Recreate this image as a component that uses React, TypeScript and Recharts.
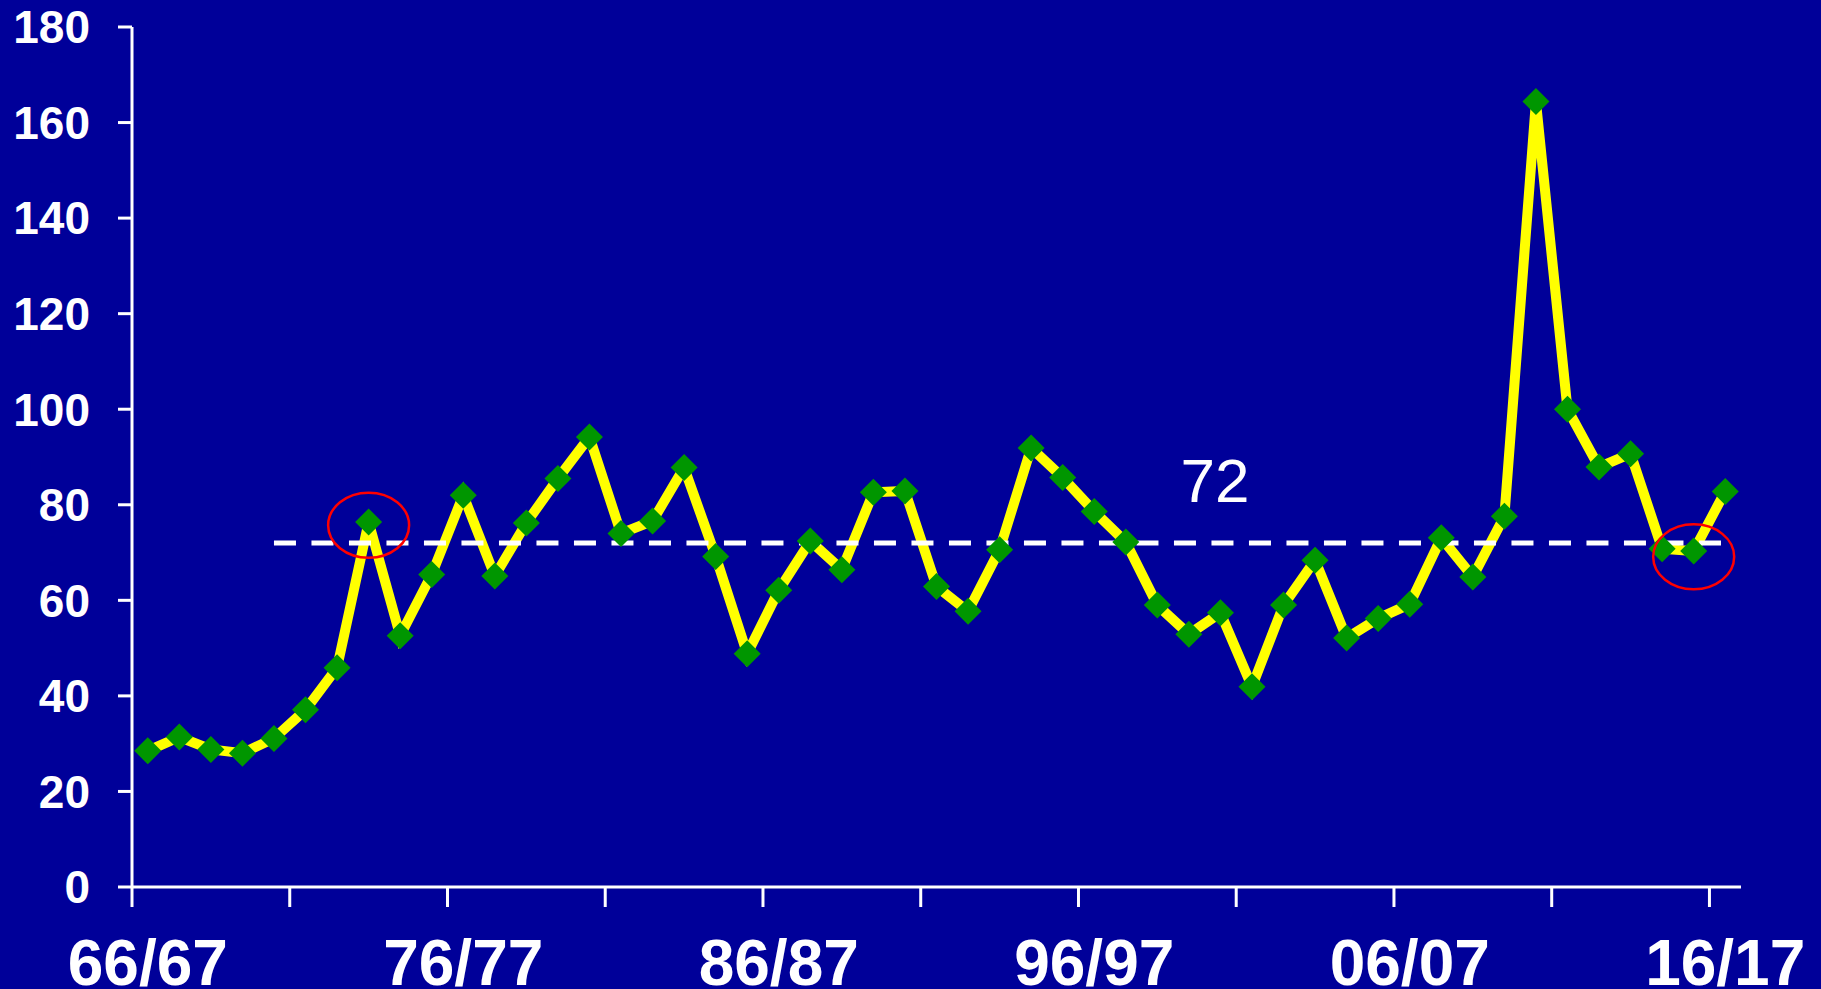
import { LineChart, Line, XAxis, YAxis, ReferenceLine, ReferenceDot } from 'recharts'

const seasons = [
  '66/67', '67/68', '68/69', '69/70', '70/71', '71/72', '72/73', '73/74', '74/75', '75/76',
  '76/77', '77/78', '78/79', '79/80', '80/81', '81/82', '82/83', '83/84', '84/85', '85/86',
  '86/87', '87/88', '88/89', '89/90', '90/91', '91/92', '92/93', '93/94', '94/95', '95/96',
  '96/97', '97/98', '98/99', '99/00', '00/01', '01/02', '02/03', '03/04', '04/05', '05/06',
  '06/07', '07/08', '08/09', '09/10', '10/11', '11/12', '12/13', '13/14', '14/15', '15/16',
  '16/17',
]

const values = [
  28.5, 31.4, 28.8, 28.0, 31.1, 37.1, 45.9, 76.4, 52.6, 65.4,
  82.0, 65.1, 76.2, 85.5, 94.2, 74.0, 76.6, 87.8, 69.2, 48.8,
  62.1, 72.4, 66.4, 82.6, 82.9, 62.9, 57.7, 70.6, 91.9, 85.7,
  78.6, 72.2, 59.0, 52.9, 57.4, 41.9, 59.0, 68.4, 52.1, 56.2,
  59.2, 73.1, 64.9, 77.6, 164.4, 100.0, 87.9, 90.7, 70.8, 70.3,
  82.8,
]

const yTicks = [0, 20, 40, 60, 80, 100, 120, 140, 160, 180]

// ticks sit on band edges every 5 seasons, labels every 10
const tickMarkSeasons = ['66/67', '71/72', '76/77', '81/82', '86/87', '91/92', '96/97', '01/02', '06/07', '11/12', '16/17']
const labelledSeasons = ['66/67', '76/77', '86/87', '96/97', '06/07', '16/17']

const average = 72
const averageFrom = '70/71'
const averageTo = '16/17'
const averageLabelAt = '00/01'

const circled = [
  { season: '73/74', value: 75.7 },
  { season: '15/16', value: 69.1 },
]

const BG = '#000099'
const FONT = '"Liberation Sans", Arial, sans-serif'

const data = seasons.map((season, i) => ({ season, value: values[i] }))

function SeasonTick(props: any) {
  const { x, y, payload } = props
  const half = payload?.offset ?? 0
  const season = payload?.value
  return (
    <g>
      {tickMarkSeasons.includes(season) && (
        <line x1={x - half} x2={x - half} y1={y} y2={y + 20} stroke="#fff" strokeWidth={3} />
      )}
      {labelledSeasons.includes(season) && (
        <text x={x} y={y + 98} textAnchor="middle" fill="#fff" fontSize={64} fontWeight="bold" fontFamily={FONT}>
          {season}
        </text>
      )}
    </g>
  )
}

function Diamond(props: any) {
  const { cx, cy } = props
  if (cx == null || cy == null) return null
  const r = 13.5
  return (
    <polygon
      points={`${cx},${cy - r} ${cx + r},${cy} ${cx},${cy + r} ${cx - r},${cy}`}
      fill="#009600"
    />
  )
}

function RedEllipse(props: any) {
  const { cx, cy } = props
  return <ellipse cx={cx} cy={cy} rx={40.5} ry={32.5} fill="none" stroke="#ff0000" strokeWidth={2.5} />
}

function AverageLabel(props: any) {
  const { cx, cy } = props
  return (
    <text x={cx - 40} y={cy - 41} fill="#fff" fontSize={62} fontFamily={FONT}>
      {average}
    </text>
  )
}

export default function App() {
  return (
    <div style={{ position: 'absolute', left: 0, top: 0, width: 1821, height: 989, background: BG }}>
      <LineChart width={1821} height={989} data={data} margin={{ top: 27, right: 80, left: 0, bottom: 0 }}>
        <XAxis
          dataKey="season"
          scale="band"
          interval={0}
          height={102}
          tickSize={0}
          tickMargin={0}
          tickLine={false}
          axisLine={{ stroke: '#fff', strokeWidth: 3 }}
          tick={<SeasonTick />}
        />
        <YAxis
          domain={[0, 180]}
          ticks={yTicks}
          width={132}
          interval={0}
          tickSize={14}
          tickMargin={28}
          axisLine={{ stroke: '#fff', strokeWidth: 3 }}
          tickLine={{ stroke: '#fff', strokeWidth: 3 }}
          tick={{ fill: '#fff', fontSize: 46, fontWeight: 'bold', fontFamily: FONT }}
        />
        <Line
          type="linear"
          dataKey="value"
          stroke="#ffff00"
          strokeWidth={10}
          dot={<Diamond />}
          activeDot={false}
          isAnimationActive={false}
        />
        <ReferenceLine
          segment={[{ x: averageFrom, y: average }, { x: averageTo, y: average }]}
          stroke="#fff"
          strokeWidth={5}
          strokeDasharray="22 15.5"
        />
        <ReferenceDot x={averageLabelAt} y={average} r={0} shape={<AverageLabel />} />
        {circled.map((c) => (
          <ReferenceDot key={c.season} x={c.season} y={c.value} r={40} shape={<RedEllipse />} />
        ))}
      </LineChart>
    </div>
  )
}
